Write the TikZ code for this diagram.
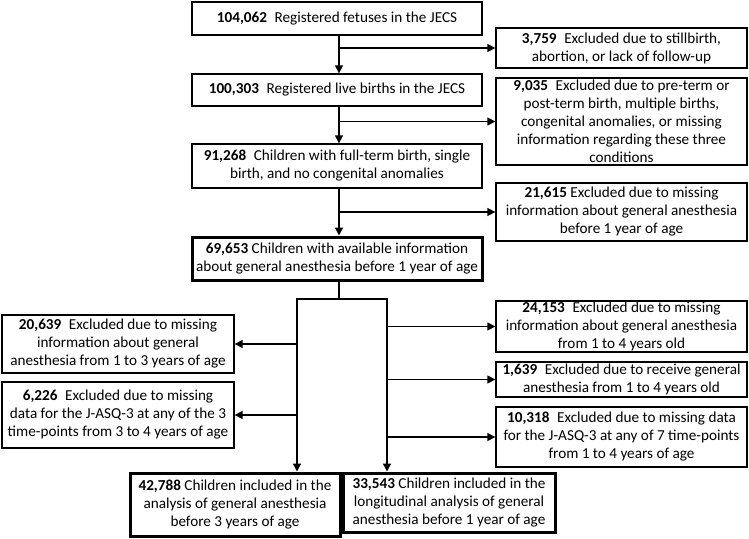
\documentclass[tikz,border=0pt]{standalone}
\usepackage{fontspec}
\setmainfont{Carlito}
\usetikzlibrary{arrows.meta}
\tikzset{
  box/.style={draw=black, line width=1.3pt, fill=white, align=center, inner sep=1pt,
    font=\fontsize{15.2}{18}\selectfont},
  thickbox/.style={box, line width=3pt},
  arr/.style={line width=1.4pt, -{Triangle[length=8pt,width=8pt]}},
  ln/.style={line width=1.4pt}
}
\newcommand{\nb}[1]{\textbf{#1}}
\begin{document}
\begin{tikzpicture}[x=1pt,y=-1pt]
\useasboundingbox (0,0) rectangle (749,538);
% main column
\node[box, minimum width=290, minimum height=33] (b1) at (337,18.5) {\nb{104,062}\enspace Registered fetuses in the JECS};
\node[box, minimum width=290, minimum height=32] (b2) at (337,90) {\nb{100,303}\enspace Registered live births in the JECS};
\node[box, minimum width=290, minimum height=44] (b3) at (337,166) {\nb{91,268}\enspace Children with full-term birth, single\\birth, and no congenital anomalies};
\node[thickbox, minimum width=290, minimum height=43] (b4) at (337,258.5) {\nb{69,653} Children with available information\\about general anesthesia before 1 year of age};
% right exclusions (upper)
\node[box, minimum width=251, minimum height=40] (r1) at (621.5,48) {\nb{3,759}\enspace Excluded due to stillbirth,\\abortion, or lack of follow-up};
\node[box, minimum width=251, minimum height=87] (r2) at (621.5,121.5) {\nb{9,035}\enspace Excluded due to pre-term or\\post-term birth, multiple births,\\congenital anomalies, or missing\\information regarding these three\\conditions};
\node[box, minimum width=251, minimum height=58] (r3) at (621.5,212) {\nb{21,615} Excluded due to missing\\information about general anesthesia\\before 1 year of age};
% right exclusions (lower)
\node[box, minimum width=251, minimum height=49] (r4) at (621.5,326.5) {\nb{24,153}\enspace Excluded due to missing\\information about general anesthesia\\from 1 to 4 years old};
\node[box, minimum width=251, minimum height=35] (r5) at (621.5,379.5) {\nb{1,639}\enspace Excluded due to receive general\\anesthesia from 1 to 4 years old};
\node[box, minimum width=251, minimum height=60] (r6) at (621.5,437) {\nb{10,318}\enspace Excluded due to missing data\\for the J-ASQ-3 at any of 7 time-points\\from 1 to 4 years of age};
% left exclusions
\node[box, minimum width=232, minimum height=58] (l1) at (118,344) {\nb{20,639}\enspace Excluded due to missing\\information about general\\anesthesia from 1 to 3 years of age};
\node[box, minimum width=232, minimum height=66] (l2) at (118,415) {\nb{6,226}\enspace Excluded due to missing\\data for the J-ASQ-3 at any of the 3\\time-points from 3 to 4 years of age};
% final boxes
\node[thickbox, minimum width=210, minimum height=63] (f1) at (235,504.5) {\nb{42,788} Children included in the\\analysis of general anesthesia\\before 3 years of age};
\node[thickbox, minimum width=212, minimum height=59] (f2) at (449,502.5) {\nb{33,543} Children included in the\\longitudinal analysis of general\\anesthesia before 1 year of age};
% spine
\coordinate (sp) at (339,0);
\draw[arr] (b1.south -| sp) -- (b2.north -| sp);
\draw[arr] (b2.south -| sp) -- (b3.north -| sp);
\draw[arr] (b3.south -| sp) -- (b4.north -| sp);
\draw[arr] (r1.west -| sp) -- (r1.west);
\draw[arr] (r2.west -| sp) -- (r2.west);
\draw[arr] (r3.west -| sp) -- (r3.west);
% split
\coordinate (j) at (339,299);
\coordinate (jl) at (297,299);
\coordinate (jr) at (387,299);
\draw[ln] (b4.south -| j) -- (j);
\draw[ln, line cap=rect] (jl) -- (jr);
\draw[arr] (jl) -- (f1.north -| jl);
\draw[arr] (jr) -- (f2.north -| jr);
\draw[arr] (l1.east -| jl) -- (l1.east);
\draw[arr] (l2.east -| jl) -- (l2.east);
\draw[arr] (r4.west -| jr) -- (r4.west);
\draw[arr] (r5.west -| jr) -- (r5.west);
\draw[arr] (r6.west -| jr) -- (r6.west);
\end{tikzpicture}
\end{document}
